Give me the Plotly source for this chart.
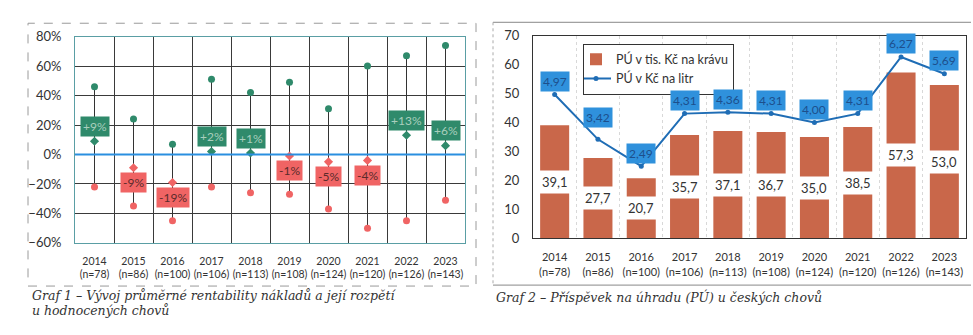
import plotly.graph_objects as go

# ---- data: cost profitability per year (Graf 1) ----
years = ["2014", "2015", "2016", "2017", "2018", "2019", "2020", "2021", "2022", "2023"]
sample_sizes = [78, 86, 100, 106, 113, 108, 124, 120, 126, 143]
profit_max = [46, 24, 7, 51, 42, 49, 31, 60, 67, 74]
profit_mean = [9, -9, -19, 2, 1, -1, -5, -4, 13, 6]
profit_min = [-22, -35, -45, -22, -26, -27, -37, -50, -45, -31]

# ---- data: contribution margin (Graf 2) ----
pu_per_cow = [39.1, 27.7, 20.7, 35.7, 37.1, 36.7, 35.0, 38.5, 57.3, 53.0]
pu_per_litre = [4.97, 3.42, 2.49, 4.31, 4.36, 4.31, 4.00, 4.31, 6.27, 5.69]

tick_text = [f"{y}<br>(n={n})" for y, n in zip(years, sample_sizes)]
xs = list(range(len(years)))  # slot index of each year on both category scales

W, H = 973, 335


def px(x):
    return x / W


def py(y):
    return 1 - y / H


GREEN = "#2f8a6b"
RED = "#f06464"
BLUE_LINE = "#1f6db5"
BLUE_BOX = "#2f91dc"
BAR = "#c9674a"
FONT = "Lato"

fig = go.Figure()

# ---- Graf 1: range whiskers ----
wx, wy = [], []
for x, hi, lo in zip(xs, profit_max, profit_min):
    wx += [x, x, None]
    wy += [hi, lo, None]
fig.add_trace(go.Scatter(x=wx, y=wy, mode="lines", line=dict(color="#333333", width=1),
                         xaxis="x", yaxis="y", showlegend=False, hoverinfo="skip"))


def sign_colors(vals):
    return [GREEN if v >= 0 else RED for v in vals]


fig.add_trace(go.Scatter(x=xs, y=profit_max, mode="markers",
                         marker=dict(color=sign_colors(profit_max), size=7),
                         xaxis="x", yaxis="y", showlegend=False))
fig.add_trace(go.Scatter(x=xs, y=profit_min, mode="markers",
                         marker=dict(color=sign_colors(profit_min), size=7),
                         xaxis="x", yaxis="y", showlegend=False))
fig.add_trace(go.Scatter(x=xs, y=profit_mean, mode="markers",
                         marker=dict(color=sign_colors(profit_mean), size=7, symbol="diamond"),
                         xaxis="x", yaxis="y", showlegend=False))

annotations = []
for x, m in zip(xs, profit_mean):
    pos = m >= 0
    annotations.append(dict(
        x=x, y=m + (10 if pos else -10), xref="x", yref="y",
        text=f"{m:+d}%", showarrow=False,
        font=dict(family=FONT, size=12, color="#a9cfbd" if pos else "#5b2b2b"),
        bgcolor=GREEN if pos else RED, borderpad=2,
    ))

# ---- Graf 2: bars + line on secondary scale ----
fig.add_trace(go.Bar(x=xs, y=pu_per_cow, name="PÚ v tis. Kč na krávu",
                     marker=dict(color=BAR, line=dict(width=0)),
                     xaxis="x2", yaxis="y2"))
fig.add_trace(go.Scatter(x=xs, y=pu_per_litre, name="PÚ v Kč na litr",
                         mode="lines+markers",
                         line=dict(color=BLUE_LINE, width=2),
                         marker=dict(color=BLUE_LINE, size=5),
                         xaxis="x2", yaxis="y3"))

for x, v in zip(xs, pu_per_cow):
    annotations.append(dict(
        x=x, y=v / 2, xref="x2", yref="y2", text=f"{v:.1f}".replace(".", ","),
        showarrow=False, font=dict(family=FONT, size=13, color="#333333"),
        bgcolor="white", borderpad=3,
    ))

for x, v in zip(xs, pu_per_litre):
    annotations.append(dict(
        x=x, y=v, xref="x2", yref="y3", text=f"{v:.2f}".replace(".", ","),
        showarrow=False, yshift=22 if x == 1 else 13,
        font=dict(family=FONT, size=12, color="#1d4f8c"),
        bgcolor=BLUE_BOX, borderpad=2,
    ))

# captions
cap_font = dict(family="DejaVu Serif", size=12.5, color="#333333")
annotations += [
    dict(x=px(30), y=py(302), xref="paper", yref="paper", xanchor="left", yanchor="middle",
         text="<i>Graf 1 – Vývoj průměrné rentability nákladů a její rozpětí</i>",
         showarrow=False, font=cap_font),
    dict(x=px(30), y=py(318), xref="paper", yref="paper", xanchor="left", yanchor="middle",
         text="<i>u hodnocených chovů</i>", showarrow=False, font=cap_font),
    dict(x=px(494), y=py(304), xref="paper", yref="paper", xanchor="left", yanchor="middle",
         text="<i>Graf 2 – Příspěvek na úhradu (PÚ) u českých chovů</i>",
         showarrow=False, font=cap_font),
]

shapes = [
    # frame around Graf 1
    dict(type="rect", xref="paper", yref="paper", x0=px(28), x1=px(476), y0=py(292), y1=py(16),
         line=dict(color="#9a9a9a", width=1, dash="dash"), layer="below"),
    # frame around Graf 2
    dict(type="line", xref="paper", yref="paper", x0=px(493), x1=px(971), y0=py(15), y1=py(15),
         line=dict(color="#888888", width=1)),
    dict(type="line", xref="paper", yref="paper", x0=px(493), x1=px(493), y0=py(15), y1=py(291),
         line=dict(color="#aaaaaa", width=1, dash="dot")),
    dict(type="line", xref="paper", yref="paper", x0=px(493), x1=px(971), y0=py(291), y1=py(291),
         line=dict(color="#888888", width=1)),
    # zero line of Graf 1
    dict(type="line", xref="x domain", yref="y", x0=0, x1=1, y0=0, y1=0,
         line=dict(color="#2a8fe0", width=2)),
]

slot_range = [-0.5, len(years) - 0.5]

fig.update_layout(
    width=W, height=H, margin=dict(l=0, r=0, t=0, b=0),
    paper_bgcolor="white", plot_bgcolor="white",
    font=dict(family=FONT, size=12, color="#333333"),
    bargap=0.33,
    xaxis=dict(domain=[px(75), px(465)], range=slot_range,
               tickvals=xs, ticktext=tick_text, tickfont=dict(size=10.5), tickangle=0,
               showgrid=False, zeroline=False,
               minor=dict(tick0=0.5, dtick=1, showgrid=True, gridcolor="#3a3a3a", gridwidth=1),
               showline=True, linecolor="#5a9ea4", mirror=True,
               ticks="outside", ticklen=8, tickcolor="rgba(0,0,0,0)",
               anchor="y", fixedrange=True),
    yaxis=dict(domain=[py(246.7), py(30)], range=[-60, 80], dtick=20,
               ticksuffix="%", tickfont=dict(size=13),
               showgrid=True, gridcolor="#3a3a3a", gridwidth=1, zeroline=False,
               showline=True, linecolor="#5a9ea4", mirror=True,
               ticks="outside", ticklen=10, tickcolor="rgba(0,0,0,0)",
               anchor="x", fixedrange=True),
    xaxis2=dict(domain=[px(533), px(966)], range=slot_range,
                tickvals=xs, ticktext=tick_text, tickfont=dict(size=11), tickangle=0,
                showgrid=False, zeroline=False,
                minor=dict(tick0=0.5, dtick=1, showgrid=True, gridcolor="#d8d8d8",
                           griddash="dot", gridwidth=1),
                showline=True, linecolor="#333333", mirror=True,
                ticks="outside", ticklen=9, tickcolor="rgba(0,0,0,0)",
                anchor="y2", fixedrange=True),
    yaxis2=dict(domain=[py(241.7), py(29.3)], range=[0, 70], dtick=10,
                tickfont=dict(size=13), showgrid=False, zeroline=False,
                showline=True, linecolor="#333333", mirror=True,
                ticks="outside", ticklen=10, tickcolor="rgba(0,0,0,0)",
                anchor="x2", fixedrange=True),
    yaxis3=dict(domain=[py(241.7), py(29.3)], range=[0, 7], overlaying="y2",
                anchor="x2", side="right", visible=False, fixedrange=True),
    legend=dict(x=px(583), y=py(37.5), xanchor="left", yanchor="top",
                bordercolor="#333333", borderwidth=1, bgcolor="white",
                font=dict(family=FONT, size=12.5, color="#333333"),
                tracegroupgap=0, itemwidth=30, indentation=-8),
    annotations=annotations, shapes=shapes,
)

fig.write_html("out.html")
